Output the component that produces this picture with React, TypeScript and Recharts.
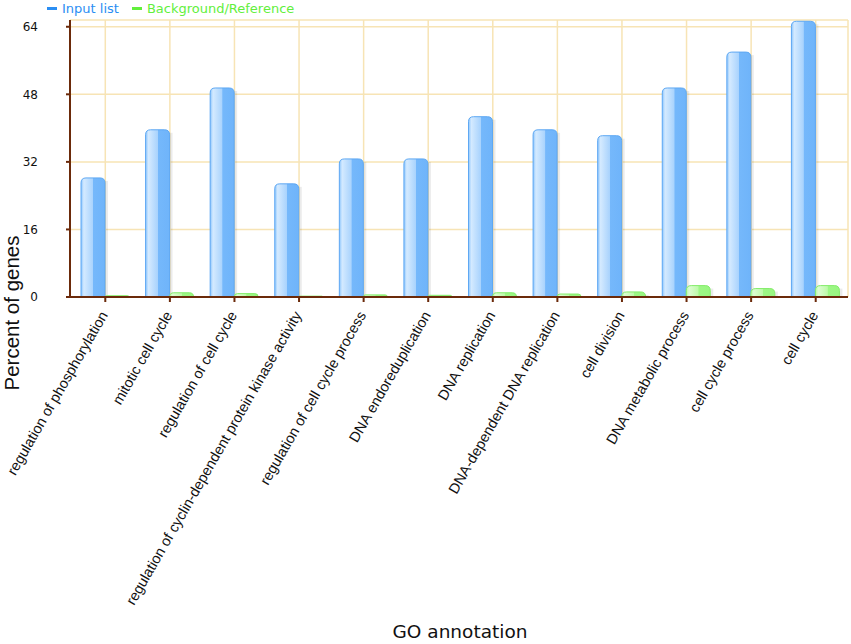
import React from "react";
import { BarChart, Bar, XAxis, YAxis, CartesianGrid, Label } from "recharts";

const categories = [
  "regulation of phosphorylation",
  "mitotic cell cycle",
  "regulation of cell cycle",
  "regulation of cyclin-dependent protein kinase activity",
  "regulation of cell cycle process",
  "DNA endoreduplication",
  "DNA replication",
  "DNA-dependent DNA replication",
  "cell division",
  "DNA metabolic process",
  "cell cycle process",
  "cell cycle",
];
const inputList = [28.2, 39.6, 49.5, 26.8, 32.7, 32.7, 42.7, 39.6, 38.2, 49.5, 58.0, 65.3];
const background = [0.3, 1.0, 0.8, 0.2, 0.5, 0.4, 1.0, 0.7, 1.2, 2.7, 2.0, 2.7];
const yTicks = [0, 16, 32, 48, 64];

const data = categories.map((name, i) => ({
  name,
  input: inputList[i],
  bg: background[i],
}));

const AXIS = "#6b2a0a";
const GRID = "#f7e4b5";

function makeShape(gradId: string, outline: string) {
  return (props: any) => {
    const { x, y, width, height } = props;
    if (!height || height <= 0) return null;
    const r = Math.min(5, width / 2, height);
    const d = `M${x},${y + height} L${x},${y + r} Q${x},${y} ${x + r},${y} L${x + width - r},${y} Q${x + width},${y} ${x + width},${y + r} L${x + width},${y + height} Z`;
    return (
      <g>
        <rect x={x + width} y={y + 3} width={3} height={Math.max(0, height - 3)} fill="#000" opacity={0.08} />
        <path d={d} fill={`url(#${gradId})`} stroke={outline} strokeWidth={1} />
      </g>
    );
  };
}

const BlueShape = makeShape("gradBlue", "#5ea8f3");
const GreenShape = makeShape("gradGreen", "#84ec6a");

const XTick = (props: any) => {
  const { x, payload } = props;
  const ax = x + 3;
  const ay = 315;
  return (
    <text
      x={ax}
      y={ay}
      textAnchor="end"
      transform={`rotate(-60, ${ax}, ${ay})`}
      fontFamily="'Liberation Sans', Arial, sans-serif"
      fontSize={14.5}
      fill="#111"
    >
      {payload.value}
    </text>
  );
};

const Dash = ({ color }: { color: string }) => (
  <span
    style={{
      display: "inline-block",
      width: 10,
      height: 3,
      background: color,
      verticalAlign: "middle",
      marginRight: 5,
      marginBottom: 2,
    }}
  />
);

export default function App() {
  return (
    <div style={{ position: "absolute", left: 0, top: 0, width: 851, height: 644, background: "#fff" }}>
      <div
        style={{
          position: "absolute",
          left: 47,
          top: 1,
          fontFamily: "'DejaVu Sans', sans-serif",
          fontSize: 13,
          lineHeight: "16px",
          display: "flex",
          gap: 13,
          whiteSpace: "nowrap",
          zIndex: 2,
        }}
      >
        <span style={{ color: "#2b8ef3" }}>
          <Dash color="#2b8ef3" />
          Input list
        </span>
        <span style={{ color: "#62ef3c" }}>
          <Dash color="#62ef3c" />
          Background/Reference
        </span>
      </div>
      <BarChart
        width={851}
        height={644}
        data={data}
        margin={{ top: 20, right: 3, bottom: 0, left: 0 }}
        barGap={0}
        barSize={24}
      >
        <defs>
          <linearGradient id="gradBlue" x1="0" y1="0" x2="1" y2="0">
            <stop offset="0" stopColor="#8cc5fc" />
            <stop offset="0.12" stopColor="#d4eaff" />
            <stop offset="0.5" stopColor="#a9d3fd" />
            <stop offset="0.52" stopColor="#75b8fb" />
            <stop offset="1" stopColor="#6fb4fa" />
          </linearGradient>
          <linearGradient id="gradGreen" x1="0" y1="0" x2="1" y2="0">
            <stop offset="0" stopColor="#b4f9a2" />
            <stop offset="0.12" stopColor="#dcfdd2" />
            <stop offset="0.5" stopColor="#bdfaa9" />
            <stop offset="0.52" stopColor="#9df786" />
            <stop offset="1" stopColor="#98f680" />
          </linearGradient>
        </defs>
        <CartesianGrid stroke={GRID} strokeWidth={1.5} />
        <XAxis
          dataKey="name"
          interval={0}
          height={347}
          padding={{ left: 3, right: 0 }}
          axisLine={{ stroke: AXIS, strokeWidth: 2 }}
          tickLine={{ stroke: AXIS, strokeWidth: 2 }}
          tickSize={5}
          tick={<XTick />}
        >
          <Label
            content={() => (
              <text
                x={460}
                y={638}
                textAnchor="middle"
                fontFamily="'DejaVu Sans', sans-serif"
                fontSize={18.5}
                fill="#111"
              >
                GO annotation
              </text>
            )}
          />
        </XAxis>
        <YAxis
          width={70}
          domain={[0, 65.6]}
          ticks={yTicks}
          allowDataOverflow
          axisLine={{ stroke: AXIS, strokeWidth: 2 }}
          tickLine={{ stroke: AXIS, strokeWidth: 2 }}
          tickSize={4}
          tickMargin={28}
          tick={{ fontFamily: "'DejaVu Sans', sans-serif", fontSize: 12, fill: "#111" }}
        >
          <Label
            content={() => (
              <text
                x={19}
                y={313}
                textAnchor="middle"
                transform="rotate(-90, 19, 313)"
                fontFamily="'Liberation Sans', Arial, sans-serif"
                fontSize={20.5}
                fill="#111"
              >
                Percent of genes
              </text>
            )}
          />
        </YAxis>
        <Bar dataKey="input" shape={BlueShape} isAnimationActive={false} />
        <Bar dataKey="bg" shape={GreenShape} isAnimationActive={false} />
      </BarChart>
    </div>
  );
}
